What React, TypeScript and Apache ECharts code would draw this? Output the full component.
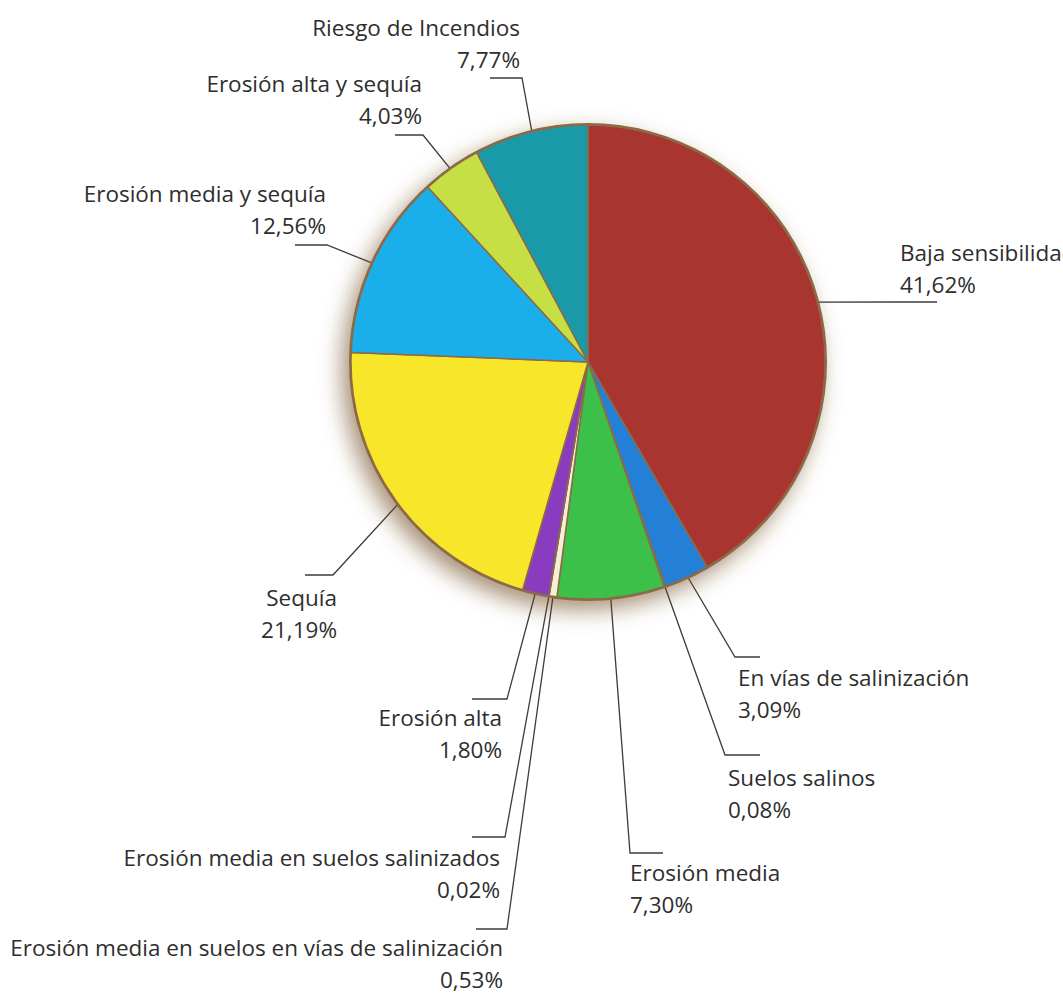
import React, { useEffect, useRef } from "react";
import * as echarts from "echarts";

const categories = [
  "Baja sensibilidad",
  "En vías de salinización",
  "Suelos salinos",
  "Erosión media",
  "Erosión media en suelos en vías de salinización",
  "Erosión media en suelos salinizados",
  "Erosión alta",
  "Sequía",
  "Erosión media y sequía",
  "Erosión alta y sequía",
  "Riesgo de Incendios",
];
const values = [41.62, 3.09, 0.08, 7.3, 0.53, 0.02, 1.8, 21.19, 12.56, 4.03, 7.77];
const colors = [
  "#a8352f",
  "#2480d6",
  "#d8ccb0",
  "#3cc04a",
  "#f4efd6",
  "#d0c4a0",
  "#8a3cc0",
  "#f7e62a",
  "#1aaeea",
  "#c5df45",
  "#1a9aa8",
];

// label placement: text anchor (x, top y, align), elbow point, end of horizontal tick, start radius fraction
const layouts = [
  { x: 900, y: 236, align: "left", ex: 900, ey: 302, hx: 937, f: 0.97 },
  { x: 738, y: 661, align: "left", ex: 735, ey: 657, hx: 760, f: 0.95 },
  { x: 728, y: 761, align: "left", ex: 725, ey: 755, hx: 760, f: 0.97 },
  { x: 630, y: 856, align: "left", ex: 630, ey: 853, hx: 663, f: 0.93 },
  { x: 503, y: 931, align: "right", ex: 507, ey: 929, hx: 476, f: 1.0 },
  { x: 500, y: 841, align: "right", ex: 505, ey: 837, hx: 472, f: 1.0 },
  { x: 502, y: 701, align: "right", ex: 507, ey: 699, hx: 472, f: 0.97 },
  { x: 337, y: 581, align: "right", ex: 333, ey: 575, hx: 305, f: 0.92 },
  { x: 326, y: 177, align: "right", ex: 327, ey: 245, hx: 295, f: 0.91 },
  { x: 422, y: 67, align: "right", ex: 423, ey: 135, hx: 395, f: 0.93 },
  { x: 520, y: 11, align: "right", ex: 522, ey: 78, hx: 490, f: 0.92 },
];

const CX = 588;
const CY = 362;
const R = 237;

export default function App() {
  const ref = useRef<HTMLDivElement>(null);
  useEffect(() => {
    if (!ref.current) return;
    const chart = echarts.init(ref.current, undefined, { renderer: "svg" });
    const total = values.reduce((a, b) => a + b, 0);
    const mids: number[] = [];
    let acc = 0;
    values.forEach((v) => {
      mids.push(((acc + v / 2) / total) * Math.PI * 2);
      acc += v;
    });
    const fmt = (v: number) => v.toFixed(2).replace(".", ",") + "%";
    chart.setOption({
      animation: false,
      backgroundColor: "#ffffff",
      series: [
        {
          type: "pie",
          silent: true,
          center: [CX, CY],
          radius: R + 2,
          label: { show: false },
          labelLine: { show: false },
          data: [{ value: 1, name: "" }],
          itemStyle: {
            color: "#8d6a46",
            shadowBlur: 22,
            shadowColor: "rgba(110,70,30,0.6)",
            shadowOffsetX: -7,
            shadowOffsetY: 9,
          },
        },
        {
          type: "pie",
          silent: true,
          center: [CX, CY],
          radius: R,
          startAngle: 90,
          clockwise: true,
          avoidLabelOverlap: false,
          data: categories.map((name, i) => ({
            name,
            value: values[i],
            itemStyle: { color: colors[i] },
          })),
          itemStyle: { borderColor: "#8d6a46", borderWidth: 1.5 },
          label: {
            show: true,
            position: "outside",
            formatter: (p: any) => `${p.name}\n${fmt(p.value)}`,
            fontFamily: "Open Sans",
            fontSize: 22.5,
            lineHeight: 32,
            color: "#2e2e2e",
          },
          labelLine: {
            show: true,
            length: 10,
            length2: 10,
            lineStyle: { color: "#3c3c3c", width: 1.3 },
          },
          labelLayout: (params: any) => {
            const i = params.dataIndex;
            const L = layouts[i];
            const r = R * L.f;
            const sx = CX + Math.sin(mids[i]) * r;
            const sy = CY - Math.cos(mids[i]) * r;
            return {
              x: L.x,
              y: L.y,
              align: L.align,
              verticalAlign: "top",
              labelLinePoints: [
                [sx, sy],
                [L.ex, L.ey],
                [L.hx, L.ey],
              ],
            };
          },
        },
      ],
    });
    return () => chart.dispose();
  }, []);
  return (
    <div
      ref={ref}
      style={{ position: "fixed", left: 0, top: 0, width: 1063, height: 995 }}
    />
  );
}
